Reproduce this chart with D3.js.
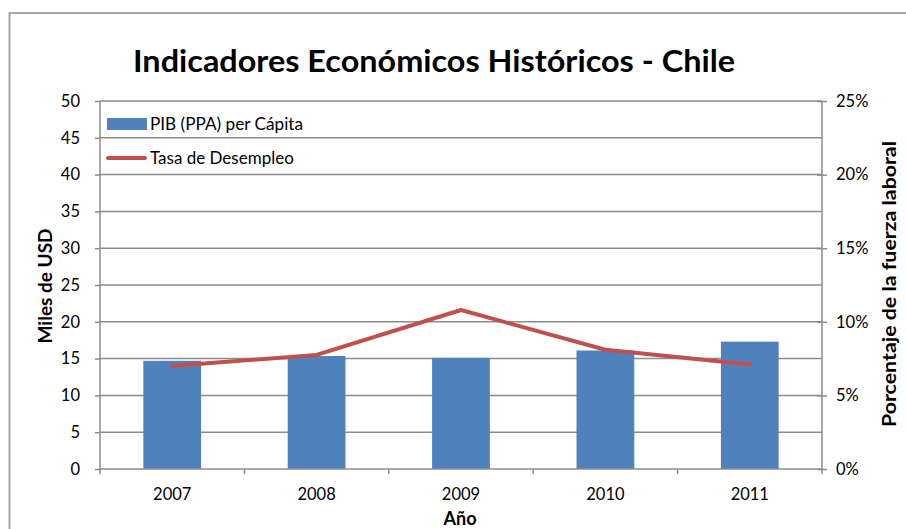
<!DOCTYPE html>
<html><head><meta charset="utf-8">
<script src="https://cdn.jsdelivr.net/npm/d3@7"></script>
<style>body{margin:0;background:#fff}svg{display:block}text{font-family:Lato,"Open Sans",sans-serif}</style>
</head><body><svg id="c" width="906" height="529"></svg>
<script>
const years = ["2007","2008","2009","2010","2011"];
const gdp = [14.7, 15.35, 15.1, 16.1, 17.3];
const unemployment = [7.0, 7.75, 10.8, 8.1, 7.1];
const leftTicks = [0,5,10,15,20,25,30,35,40,45,50];
const rightTicks = [0,5,10,15,20,25];
const title = "Indicadores Económicos Históricos - Chile";
const seriesNames = ["PIB (PPA) per Cápita","Tasa de Desempleo"];

const svg = d3.select("#c");
const L=100,R=822,T=101,B=469;
const x = d3.scaleBand().domain(years).range([L,R]).paddingInner(0.6).paddingOuter(0.3);
const xb = d3.scaleBand().domain(years).range([L,R]);
const y = d3.scaleLinear().domain([0,50]).range([B,T]);
const y2 = d3.scaleLinear().domain([0,25]).range([B,T]);
const grey="#8c8c8c";

// outer border
svg.append("rect").attr("x",9.5).attr("y",13).attr("width",1000).attr("height",1000)
  .attr("fill","none").attr("stroke","#a6a6a6").attr("stroke-width",2);

// gridlines
svg.append("g").selectAll("line").data(leftTicks.slice(1)).join("line")
  .attr("x1",L).attr("x2",R).attr("y1",d=>y(d)).attr("y2",d=>y(d))
  .attr("stroke",grey).attr("stroke-width",1.5);

// bars
svg.append("g").selectAll("rect").data(gdp).join("rect")
  .attr("x",(d,i)=>x(years[i])).attr("width",x.bandwidth())
  .attr("y",d=>y(d)).attr("height",d=>B-y(d)).attr("fill","#4f81bd");

// axes
const fs = "16.5px";
const la = svg.append("g").attr("transform",`translate(${L},0)`)
  .call(d3.axisLeft(y).tickValues(leftTicks).tickSize(5).tickPadding(15));
const ra = svg.append("g").attr("transform",`translate(${R},0)`)
  .call(d3.axisRight(y2).tickValues(rightTicks).tickSize(5).tickPadding(9).tickFormat(d=>d+"%"));
const ba = svg.append("g").attr("transform",`translate(0,${B})`)
  .call(d3.axisBottom(xb).tickSize(0).tickPadding(19));
// bottom ticks at band boundaries
svg.append("g").selectAll("line").data(years.concat(["end"])).join("line")
  .attr("x1",(d,i)=>L+i*xb.step()).attr("x2",(d,i)=>L+i*xb.step())
  .attr("y1",B).attr("y2",B+5).attr("stroke",grey).attr("stroke-width",1.5);
// right ticks cross
ra.selectAll(".tick line").attr("x1",-5);
[la,ra,ba].forEach(g=>{
  g.selectAll(".domain").attr("stroke",grey).attr("stroke-width",1.5);
  g.selectAll(".tick line").attr("stroke",grey).attr("stroke-width",1.5);
  g.selectAll("text").attr("font-size",fs).attr("fill","#000").attr("font-family","Lato,sans-serif");
});
la.select(".domain").attr("d",`M0,${B}V${T}`);
ra.select(".domain").attr("d",`M0,${B}V${T}`);
ba.select(".domain").attr("d",`M${L},0H${R}`);

// line
const line = d3.line().x((d,i)=>xb(years[i])+xb.bandwidth()/2).y(d=>y2(d));
svg.append("path").datum(unemployment).attr("d",line).attr("fill","none")
  .attr("stroke","#c0504d").attr("stroke-width",4).attr("stroke-linejoin","round").attr("stroke-linecap","round");

// title
svg.append("text").attr("x",434).attr("y",72).attr("text-anchor","middle")
  .attr("font-size","31px").attr("font-weight","bold").attr("textLength",602)
  .attr("lengthAdjust","spacingAndGlyphs").text(title);

// axis titles
svg.append("text").attr("transform","translate(52,286) rotate(-90)").attr("text-anchor","middle")
  .attr("font-size","18px").attr("font-weight","bold").attr("textLength",115)
  .attr("lengthAdjust","spacingAndGlyphs").text("Miles de USD");
svg.append("text").attr("transform","translate(896,284) rotate(-90)").attr("text-anchor","middle")
  .attr("font-size","18px").attr("font-weight","bold").attr("textLength",286)
  .attr("lengthAdjust","spacingAndGlyphs").text("Porcentaje de la fuerza laboral");
svg.append("text").attr("x",460).attr("y",525).attr("text-anchor","middle")
  .attr("font-size","18px").attr("font-weight","bold").text("Año");

// legend
svg.append("rect").attr("x",107).attr("y",118).attr("width",40).attr("height",12).attr("fill","#4f81bd");
svg.append("text").attr("x",150).attr("y",130).attr("font-size","17px").attr("textLength",153)
  .attr("lengthAdjust","spacingAndGlyphs").text(seriesNames[0]);
svg.append("line").attr("x1",108).attr("x2",145).attr("y1",158).attr("y2",158)
  .attr("stroke","#c0504d").attr("stroke-width",4).attr("stroke-linecap","round");
svg.append("text").attr("x",150).attr("y",164).attr("font-size","17px").text(seriesNames[1]);
</script></body></html>
